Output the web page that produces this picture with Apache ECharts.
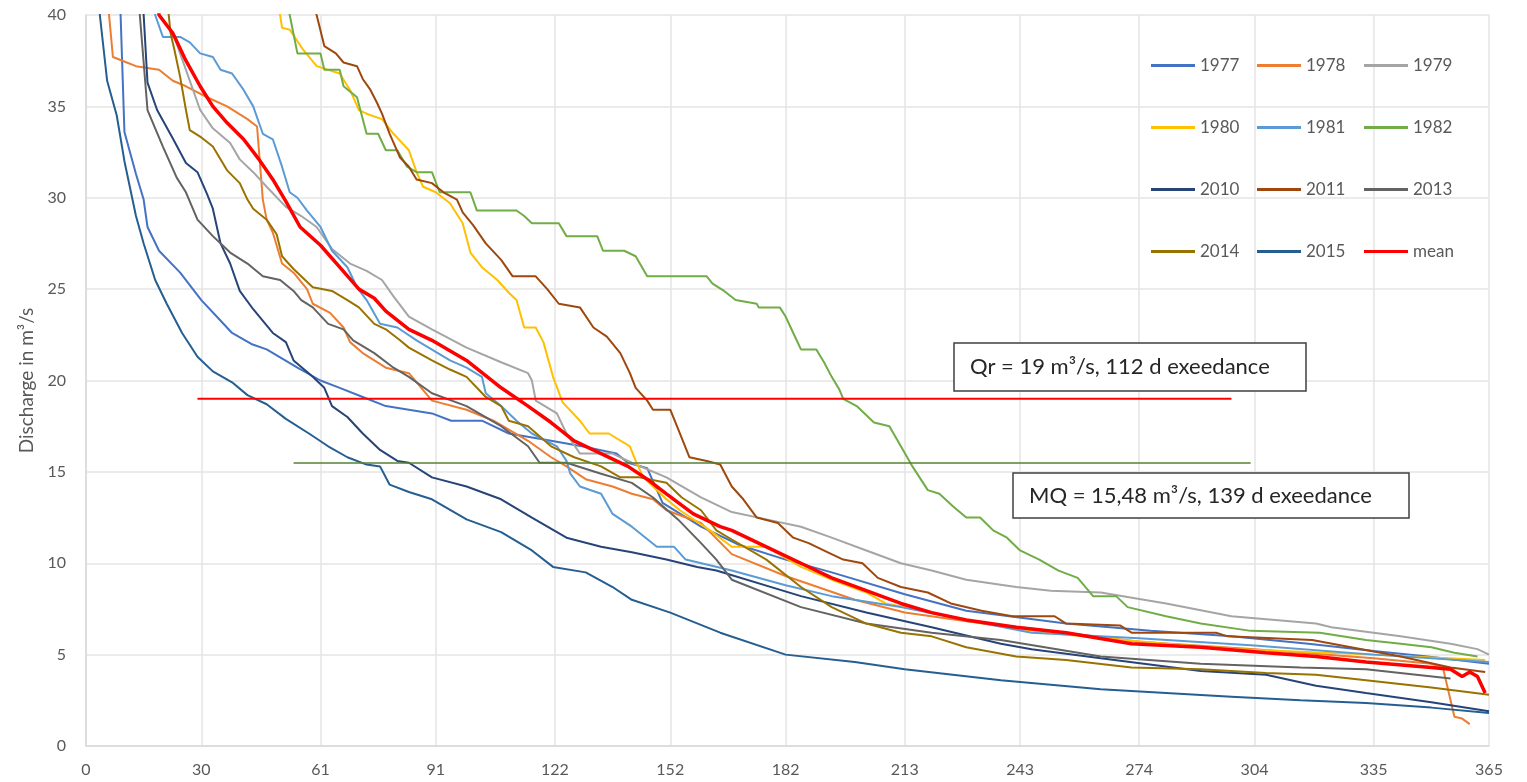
<!DOCTYPE html>
<html>
<head>
<meta charset="utf-8">
<script src="https://cdn.jsdelivr.net/npm/echarts@6.0.0/dist/echarts.min.js"></script>
<style>
  html, body { margin: 0; padding: 0; background: #fff; }
  #chart { width: 1527px; height: 782px; }
</style>
</head>
<body>
<div id="chart"></div>
<script>
// x axis ticks = month boundaries (days)
const xTicks = [0, 30, 61, 91, 122, 152, 182, 213, 243, 274, 304, 335, 365]

// flow duration curves, [day, discharge m3/s]
const y1977 = [[1,90],[5,60],[9,40],[10,33.6],[13,31.3],[15,29.9],[16,28.4],[19,27.1],[24.5,25.9],[30,24.4],[34,23.5],[38,22.6],[43,22.0],[47,21.7],[55,20.7],[61,20.0],[66,19.6],[72,19.1],[78,18.6],[84,18.4],[90,18.2],[95,17.8],[103,17.8],[110,17.1],[121,16.7],[129,16.4],[138,16.0],[141,15.5],[146,15.2],[150,13.3],[160,12.0],[170,11.0],[182,10.2],[194,9.5],[213,8.3],[229,7.4],[255,6.7],[277,6.3],[298,6.0],[318,5.6],[335,5.2],[349,4.9],[365,4.5]]
const y1978 = [[1,80],[4,50],[6,40],[7,37.7],[10.6,37.4],[13,37.2],[19,37.0],[22.6,36.4],[26,36.1],[31.5,35.5],[36.7,35.0],[42,34.3],[44.5,33.9],[46,29.9],[47,28.8],[48.6,28.1],[51,26.4],[54,25.9],[57.5,25.0],[59,24.2],[63.5,23.7],[67,22.9],[68.7,22.1],[72,21.5],[75,21.1],[78,20.7],[84,20.4],[90,18.9],[99,18.4],[106,17.8],[115,16.7],[121,15.8],[125,15.3],[130,14.6],[137,14.2],[142,13.8],[147.5,13.5],[151,12.9],[160,12.2],[168,10.5],[182,9.3],[200,8.0],[213,7.3],[230,6.8],[243,6.5],[274,5.7],[304,5.3],[335,4.8],[350,4.5],[353,4.3],[356,1.6],[358,1.5],[360,1.2]]
const y1979 = [[1,90],[10,55],[19,40],[22.6,39.0],[26,37.0],[29.7,34.8],[33,33.8],[37.5,33.0],[40,32.1],[43.5,31.4],[47,30.6],[52,29.5],[56,29.0],[60,28.4],[64,27.2],[68.7,26.4],[73,26.0],[77,25.5],[80,24.6],[84,23.5],[90,22.8],[99,21.8],[108,21.0],[115,20.4],[116,20.0],[117,18.9],[122.5,18.2],[125,17.1],[128.5,16.0],[137,16.0],[142,15.5],[151,14.7],[160,13.6],[168,12.8],[177,12.4],[186,12.0],[194,11.4],[203,10.7],[212,10.0],[220,9.6],[229,9.1],[242,8.7],[251,8.5],[264,8.4],[281,7.8],[298,7.1],[320,6.7],[324,6.5],[342,6.0],[355,5.6],[362,5.3],[365,5.0]]
const y1980 = [[1,95],[20,70],[40,48],[50.5,40],[51,39.3],[53,39.2],[56.5,38.1],[60,37.2],[66,36.8],[68.7,35.9],[71,34.8],[73,34.6],[77,34.3],[80,33.5],[84,32.6],[86,31.4],[87.7,30.6],[91,30.3],[94.7,29.7],[98,28.6],[100,27.0],[103,26.2],[107,25.5],[110,24.8],[112,24.4],[114,22.9],[117,22.9],[119,22.1],[121.5,20.2],[124,18.8],[128.5,17.8],[131,17.1],[136,17.1],[141.5,16.4],[143,15.6],[145,14.7],[151,13.5],[154.5,12.9],[163,11.7],[168,10.9],[177,10.9],[186,9.8],[194,9.1],[203,8.4],[208,7.8],[220,7.3],[233,6.7],[250,6.2],[265,5.9],[281,5.6],[300,5.3],[335,5.0],[364,4.7]]
const y1981 = [[1,90],[10,60],[18,40],[20,38.8],[24.5,38.8],[27,38.5],[29.7,37.9],[33,37.7],[35,37.0],[38,36.8],[41,35.9],[43.5,35.0],[46,33.5],[48.6,33.2],[51,31.7],[53,30.3],[55,30.0],[57.5,29.3],[61,28.4],[64,27.1],[68,26.2],[70.5,25.1],[73,24.4],[76.5,23.1],[81,22.9],[86,22.2],[94.7,21.1],[99,20.7],[103,20.2],[104,19.3],[108,18.6],[112,17.8],[116,17.1],[122.5,16.4],[125,15.6],[126,14.9],[128.5,14.2],[134,13.8],[137,12.7],[142,12.0],[148.5,10.9],[153,10.9],[156,10.2],[168,9.6],[182,8.8],[194,8.2],[212,7.6],[229,6.9],[246,6.2],[274,5.9],[304,5.5],[335,5.0],[365,4.6]]
const y1982 = [[1,95],[30,60],[53,40],[55,37.9],[61,37.9],[62,37.0],[66,37.0],[67,36.1],[70.5,35.5],[73,33.5],[76,33.5],[78,32.6],[81,32.6],[83.5,31.7],[86,31.4],[90,31.4],[92,30.3],[100,30.3],[101.7,29.3],[112,29.3],[114,29.0],[116,28.6],[123,28.6],[125,27.9],[133,27.9],[134.5,27.1],[140,27.1],[143,26.8],[146,25.7],[161.5,25.7],[163,25.3],[166,24.9],[169,24.4],[174.5,24.2],[175,24.0],[180.5,24.0],[182,23.5],[184,22.6],[186,21.7],[190,21.7],[192,21.0],[194,20.2],[196,19.5],[197,19.0],[200.5,18.6],[205,17.7],[209,17.5],[212,16.4],[215,15.3],[219,14.0],[222,13.8],[225.6,13.1],[229,12.5],[232.6,12.5],[236,11.8],[239.6,11.4],[243,10.7],[248,10.2],[253,9.6],[258,9.2],[262,8.2],[268,8.2],[271,7.6],[281,7.1],[290,6.7],[303,6.3],[321,6.2],[333,5.8],[342,5.6],[350,5.4],[356,5.1],[362,4.9]]
const y2010 = [[1,90],[8,55],[15,40],[16,36.3],[18.5,34.8],[22.7,33.2],[26,31.9],[29,31.4],[31.5,30.2],[33,29.4],[35,27.5],[37.5,26.4],[40,24.9],[43.5,23.9],[48.6,22.6],[52,22.1],[54,21.1],[59,20.2],[62,19.6],[64,18.6],[68,18.0],[72,17.1],[76.5,16.2],[81,15.6],[84,15.5],[90,14.7],[99,14.2],[108,13.5],[116,12.5],[125,11.4],[134,10.9],[142,10.6],[151,10.2],[159,9.8],[164,9.6],[186,8.2],[203,7.3],[220,6.5],[238,5.6],[246,5.3],[264,4.8],[290,4.1],[307,3.9],[320,3.3],[333,2.9],[350,2.4],[365,1.9]]
const y2011 = [[1,95],[30,70],[60,40],[62,38.3],[65,37.9],[67,37.4],[70.5,37.2],[72,36.5],[74,35.9],[75.7,35.2],[77,34.6],[79,33.5],[81.7,32.2],[84,31.7],[86,31.0],[90,30.8],[93,30.3],[96.5,29.9],[98,29.2],[100.7,28.5],[104,27.5],[108,26.6],[111,25.7],[117,25.7],[120,25.0],[123,24.2],[128.5,24.0],[132,22.9],[135.5,22.4],[139,21.5],[141.5,20.4],[143,19.6],[146,18.9],[147.5,18.4],[152,18.4],[154.5,17.1],[157,15.8],[161.5,15.6],[165,15.4],[168,14.2],[171,13.5],[174.5,12.5],[180,12.2],[184,11.4],[188,11.1],[193,10.6],[197,10.2],[202,10.0],[206,9.2],[212,8.7],[219,8.4],[225,7.8],[233,7.4],[241,7.1],[252,7.1],[255,6.7],[269,6.6],[272,6.2],[294,6.2],[297,6.0],[319,5.8],[342,4.9],[355,4.3],[364,4.05]]
const y2013 = [[1,90],[8,55],[14,40],[16,34.8],[20,32.8],[23.6,31.1],[26,30.3],[29,28.8],[33,27.9],[37.5,27.0],[42,26.4],[46,25.7],[50.5,25.5],[54,24.9],[56,24.4],[59,24.0],[63,23.1],[67,22.8],[69.5,22.2],[75,21.5],[80,20.7],[84,20.2],[90,19.3],[99,18.6],[108,17.5],[115,16.4],[118,15.5],[125,15.5],[134,14.9],[142,14.4],[147.5,13.6],[154,12.4],[160,11.1],[164,10.2],[168,9.1],[186,7.6],[203,6.7],[220,6.2],[238,5.8],[264,4.9],[290,4.5],[316,4.3],[333,4.2],[355,3.7]]
const y2014 = [[1,95],[12,60],[22,39],[23,38.1],[24.5,36.6],[26,34.8],[27,33.7],[30,33.3],[33,32.8],[36.7,31.5],[40,30.8],[42,29.9],[43.5,29.4],[47,28.8],[49.6,28.0],[51,26.8],[54,26.1],[57,25.5],[59,25.1],[64,24.9],[68,24.4],[71,24.0],[75,23.1],[78,22.8],[81.7,22.2],[84,21.8],[90,21.1],[94.7,20.6],[99,20.2],[104,19.1],[108,18.6],[110,17.8],[115,17.5],[121,16.4],[127,15.8],[134,15.3],[139,14.7],[144,14.7],[151,14.4],[155,13.6],[160,12.9],[164,11.8],[168,11.3],[177,10.2],[186,8.7],[194,7.6],[203,6.7],[212,6.2],[220,6.0],[229,5.4],[242,4.9],[255,4.7],[272,4.3],[290,4.2],[307,4.0],[320,3.9],[333,3.6],[350,3.2],[365,2.8]]
const y2015 = [[1,80],[3.6,40],[5.5,36.4],[8,34.5],[10,32],[13,29],[15,27.5],[18,25.5],[21,24.2],[25,22.6],[29,21.3],[33,20.5],[38,19.9],[42,19.2],[47,18.7],[52,17.9],[58,17.1],[63,16.4],[68,15.8],[73,15.4],[76.5,15.3],[79,14.3],[84,13.9],[90,13.5],[99,12.4],[108,11.7],[116,10.7],[121.5,9.8],[130,9.5],[137,8.7],[142,8.0],[152,7.3],[165,6.2],[182,5.0],[200,4.6],[213,4.2],[238,3.6],[264,3.1],[281,2.9],[298,2.7],[316,2.5],[333,2.35],[350,2.1],[365,1.8]]
const yMean = [[1,100],[10,55],[19,40],[22.6,39.0],[26,37.5],[29.7,36.1],[33,35.0],[36.7,34.1],[41,33.2],[45,32.1],[48.6,31.0],[52,29.8],[55.7,28.4],[61,27.4],[66,26.2],[71,25.0],[75,24.5],[78,23.8],[84,22.8],[90,22.2],[99,21.1],[108,19.6],[115,18.6],[121,17.7],[127,16.7],[134,16.0],[141,15.3],[146,14.6],[151,13.8],[158,12.7],[165,12.0],[168,11.8],[177,10.9],[186,10.0],[194,9.2],[203,8.5],[212,7.8],[220,7.3],[229,6.9],[242,6.5],[255,6.2],[272,5.6],[290,5.4],[307,5.1],[320,4.9],[333,4.6],[350,4.3],[355,4.2],[358,3.8],[360,4.05],[362,3.8],[364,2.9]]

// reference levels
const qr = [[29, 19], [298, 19]]
const mq = [[54, 15.48], [303, 15.48]]

const years = [
    { name: '1977', data: y1977, color: '#4472C4' },
    { name: '1978', data: y1978, color: '#ED7D31' },
    { name: '1979', data: y1979, color: '#A5A5A5' },
    { name: '1980', data: y1980, color: '#FFC000' },
    { name: '1981', data: y1981, color: '#5B9BD5' },
    { name: '1982', data: y1982, color: '#70AD47' },
    { name: '2010', data: y2010, color: '#264478' },
    { name: '2011', data: y2011, color: '#9E480E' },
    { name: '2013', data: y2013, color: '#636363' },
    { name: '2014', data: y2014, color: '#997300' },
    { name: '2015', data: y2015, color: '#255E91' },
    { name: 'mean', data: yMean, color: '#FF0000' }
]

const FONT = 'Lato, "Open Sans", sans-serif'
const gray = '#595959'

const chart = echarts.init(document.getElementById('chart'))

const series = years.map(y => ({
    name: y.name,
    type: 'line',
    data: y.data,
    symbol: 'none',
    color: y.color,
    lineStyle: { color: y.color, width: y.name === 'mean' ? 3.5 : 2 },
    z: y.name === 'mean' ? 5 : 3,
    emphasis: { disabled: true }
}))
series.push({
    name: 'Qr', type: 'line', data: qr, symbol: 'none',
    lineStyle: { color: '#FF0000', width: 2 }, z: 4, emphasis: { disabled: true }
})
series.push({
    name: 'MQ', type: 'line', data: mq, symbol: 'none',
    lineStyle: { color: '#548235', width: 1.5 }, z: 4, emphasis: { disabled: true }
})

// legend laid out in 3 columns like the original
const legendCols = [
    ['1977', '1980', '2010', '2014'],
    ['1978', '1981', '2011', '2015'],
    ['1979', '1982', '2013', 'mean']
]
const legendLeft = [1151, 1257, 1364]

const option = {
    animation: false,
    grid: { left: 86, right: 38, top: 15, bottom: 36 },
    legend: legendCols.map((col, i) => ({
        orient: 'vertical',
        left: legendLeft[i],
        top: 57,
        padding: 0,
        icon: 'rect',
        itemWidth: 44,
        itemHeight: 3,
        itemGap: 45,
        data: col,
        textStyle: { color: gray, fontSize: 17, fontFamily: FONT },
        selectedMode: false
    })),
    xAxis: {
        type: 'value',
        min: 0,
        max: 365,
        axisLine: { show: true, lineStyle: { color: '#D9D9D9', width: 1.5 } },
        axisTick: { show: false, customValues: xTicks },
        axisLabel: { customValues: xTicks, color: gray, fontSize: 16, fontFamily: FONT, margin: 16 },
        splitLine: { show: true, lineStyle: { color: '#E4E4E4', width: 1.5 } }
    },
    yAxis: {
        type: 'value',
        min: 0,
        max: 40,
        interval: 5,
        name: 'Discharge in m³/s',
        nameLocation: 'middle',
        nameGap: 48,
        nameTextStyle: { color: gray, fontSize: 19, fontFamily: FONT },
        axisLine: { show: true, lineStyle: { color: '#D9D9D9', width: 1.5 } },
        axisTick: { show: false },
        axisLabel: { color: gray, fontSize: 16, fontFamily: FONT, margin: 20 },
        splitLine: { lineStyle: { color: '#E4E4E4', width: 1.5 } }
    },
    graphic: [
        { type: 'rect', shape: { x: 954, y: 343, width: 352, height: 48 },
          style: { fill: '#fff', stroke: '#404040', lineWidth: 1.5 }, z: 10 },
        { type: 'text', x: 970, y: 367,
          style: { text: 'Qr = 19 m³/s, 112 d exeedance', font: '22px ' + FONT, fill: '#262626', verticalAlign: 'middle' }, z: 11 },
        { type: 'rect', shape: { x: 1013, y: 473, width: 396, height: 45 },
          style: { fill: '#fff', stroke: '#404040', lineWidth: 1.5 }, z: 10 },
        { type: 'text', x: 1029, y: 496,
          style: { text: 'MQ = 15,48 m³/s, 139 d exeedance', font: '22px ' + FONT, fill: '#262626', verticalAlign: 'middle' }, z: 11 }
    ],
    series: series
}

chart.setOption(option)
</script>
</body>
</html>
